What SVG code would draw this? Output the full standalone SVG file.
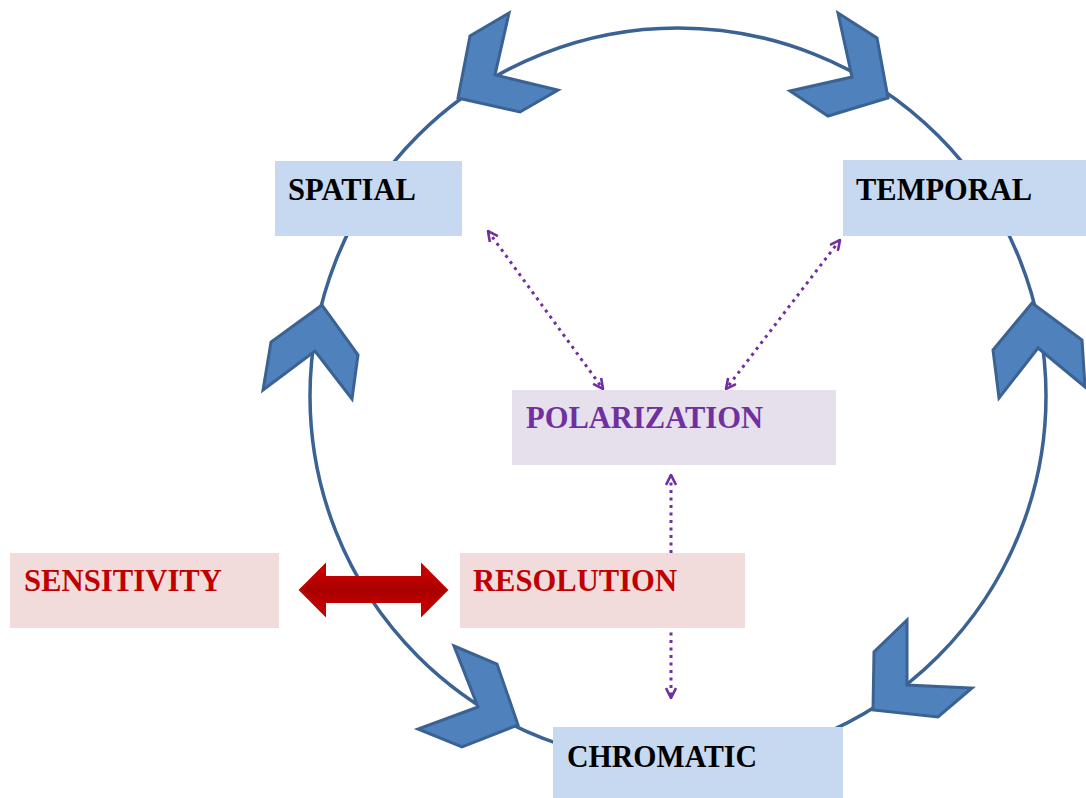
<svg xmlns="http://www.w3.org/2000/svg" width="1086" height="798" viewBox="0 0 1086 798">
<defs>
<style>
.ring{fill:none;stroke:#3A6293;stroke-width:3.5}
.chev{fill:#4F81BD;stroke:#3A6293;stroke-width:3;stroke-linejoin:miter}
.dot{fill:none;stroke:#7030A0;stroke-width:3;stroke-dasharray:3 4.5}
.lbl{font-family:"Liberation Serif",serif;font-weight:bold;font-size:31px}
.blue{fill:#C6D9F1}
.lav{fill:#E5E0EC}
.pink{fill:#F2DCDB}
</style>
<marker id="vh" viewBox="0 0 12 12" refX="11" refY="6" markerWidth="12" markerHeight="12" markerUnits="userSpaceOnUse" orient="auto-start-reverse">
<polyline points="1,1 11,6 1,11" fill="none" stroke="#7030A0" stroke-width="2.6"/>
</marker>
<linearGradient id="rg" x1="0" y1="0" x2="0" y2="1">
<stop offset="0" stop-color="#D40000"/>
<stop offset="0.5" stop-color="#A80000"/>
<stop offset="1" stop-color="#D40000"/>
</linearGradient>
</defs>
<rect width="1086" height="798" fill="#FFFFFF"/>
<g id="ring">
<circle class="ring" cx="678" cy="396" r="368"/>
</g>
<g id="connectors">
<line class="dot" x1="488" y1="231" x2="603" y2="389" marker-start="url(#vh)" marker-end="url(#vh)"/>
<line class="dot" x1="840" y1="240" x2="726" y2="389" marker-start="url(#vh)" marker-end="url(#vh)"/>
<line class="dot" x1="671" y1="475" x2="671" y2="698" marker-start="url(#vh)" marker-end="url(#vh)"/>
</g>
<g id="spatial">
<rect class="blue" x="275" y="161" width="187" height="75"/>
<text class="lbl" x="288" y="200" fill="#000000" textLength="128" lengthAdjust="spacingAndGlyphs">SPATIAL</text>
</g>
<g id="temporal">
<rect class="blue" x="843" y="160" width="243" height="76"/>
<text class="lbl" x="856" y="200" fill="#000000" textLength="176" lengthAdjust="spacingAndGlyphs">TEMPORAL</text>
</g>
<g id="polarization">
<rect class="lav" x="512" y="390" width="324" height="75"/>
<text class="lbl" x="526" y="428" fill="#7030A0" textLength="237" lengthAdjust="spacingAndGlyphs">POLARIZATION</text>
</g>
<g id="sensitivity">
<rect class="pink" x="10" y="553" width="269" height="75"/>
<text class="lbl" x="24" y="591" fill="#C00000" textLength="198" lengthAdjust="spacingAndGlyphs">SENSITIVITY</text>
</g>
<g id="resolution">
<rect class="pink" x="460" y="553" width="285" height="75"/>
<text class="lbl" x="473" y="591" fill="#C00000" textLength="204" lengthAdjust="spacingAndGlyphs">RESOLUTION</text>
</g>
<g id="chromatic">
<rect class="blue" x="553" y="727" width="290" height="71"/>
<text class="lbl" x="567" y="767" fill="#000000" textLength="190" lengthAdjust="spacingAndGlyphs">CHROMATIC</text>
</g>
<g id="tradeoff">
<polygon points="300,590 325,565 325,577 422,577 422,565 447,590 422,615 422,602 325,602 325,615" fill="url(#rg)" stroke="#C00000" stroke-width="2" stroke-linejoin="miter"/>
</g>
<g id="chevrons">
<polygon class="chev" points="509,13 470,36 458,98 520,112 558,90 495,75"/>
<polygon class="chev" points="838,13 877,38 888,98 828,116 790,91 852,77"/>
<polygon class="chev" points="322,305 271,342 263,390 315,351 352,399 358,355"/>
<polygon class="chev" points="1032,303 1082,340 1085,387 1038,348 999,398 993,350"/>
<polygon class="chev" points="454,646 497,664 518,725 462,747 418,729 478,707"/>
<polygon class="chev" points="907,620 874,652 873,710 938,717 972,688 907,685"/>
</g>
</svg>
